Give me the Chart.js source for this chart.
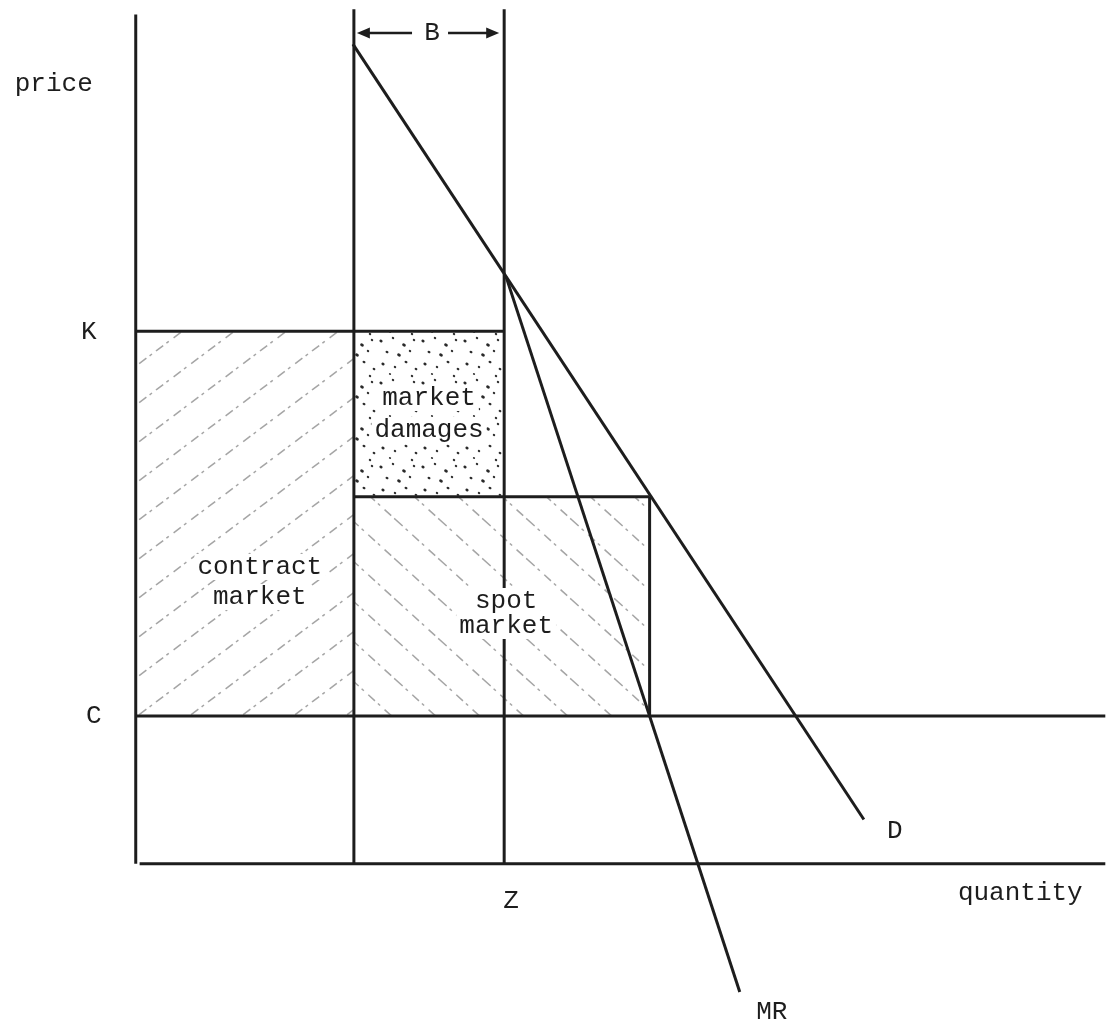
<!DOCTYPE html>
<html>
<head>
<meta charset="utf-8">
<script src="https://cdn.jsdelivr.net/npm/chart.js@4.4.1/dist/chart.umd.min.js"></script>
<style>
  html, body { margin: 0; padding: 0; background: #fff; }
  #wrap { width: 1115px; height: 1031px; position: relative; }
</style>
</head>
<body>
<div id="wrap"><canvas id="diagram"></canvas></div>
<script>
// Demand and marginal revenue curves (quantity, price)
const demandQty = [22.4, 75.1];
const demandPrice = [96.5, 5.2];
const mrQty = [38.2, 62.3];
const mrPrice = [69.1, -15.1];

// Price levels: K, step between damages and spot market, C
const levelNames = ['K', 'M', 'C'];
const levelPrices = [62.7, 43.2, 17.4];

// Quantity cuts: left edge of B, Z, right edge of spot market
const cutNames = ['B0', 'Z', 'S'];
const cutQty = [22.5, 38.0, 53.0];

const axisEnd = [100, 100];   // quantity, price
const cutTop = 100.6;

const K = levelPrices[0], M = levelPrices[1], C = levelPrices[2];
const qB = cutQty[0], qZ = cutQty[1], qS = cutQty[2];

const INK = '#1d1d1d';
const FONT = '26px "Liberation Mono", "DejaVu Sans Mono", monospace';

// --- fill patterns ---
function hatch(w, h, up) {
  const c = document.createElement('canvas');
  c.width = w; c.height = h;
  const g = c.getContext('2d');
  g.strokeStyle = 'rgba(40,40,40,0.42)';
  g.lineWidth = 1.5;
  g.setLineDash([9, 4, 3, 6]);
  for (const [dx, dy] of [[0,0],[w,0],[-w,0],[0,h],[0,-h]]) {
    g.beginPath();
    if (up) { g.moveTo(dx, h + dy); g.lineTo(w + dx, dy); }
    else { g.moveTo(dx, dy); g.lineTo(w + dx, h + dy); }
    g.stroke();
  }
  return g.createPattern(c, 'repeat');
}

function stipple() {
  const dots = [[3,5,1.3],[15,2,1.0],[26,9,1.5],[36,4,1.0],[9,16,1.2],[21,19,1.5],
                [32,15,1.0],[5,28,1.3],[17,31,1.0],[28,26,1.2],[38,33,1.1],[12,38,0.9],
                [34,40,1.0]];
  const c = document.createElement('canvas');
  c.width = 42; c.height = 42;
  const g = c.getContext('2d');
  g.fillStyle = '#2a2a2a';
  dots.forEach(([x, y, r]) => { g.beginPath(); g.ellipse(x, y, r * 1.3, r, 0.5, 0, Math.PI * 2); g.fill(); });
  return g.createPattern(c, 'repeat');
}

function seg(x1, y1, x2, y2, width) {
  return {
    data: [{x: x1, y: y1}, {x: x2, y: y2}],
    showLine: true, borderColor: INK, borderWidth: width || 3,
    pointRadius: 0, fill: false
  };
}

function area(x1, x2, top, bottom, pattern) {
  return {
    data: [{x: x1, y: top}, {x: x2, y: top}],
    showLine: true, borderWidth: 0, borderColor: 'rgba(0,0,0,0)',
    pointRadius: 0, backgroundColor: pattern, fill: {value: bottom}
  };
}

// --- labels ---
function boxed(ctx, text, x, y) {
  const w = ctx.measureText(text).width;
  ctx.fillStyle = '#fff';
  ctx.fillRect(x - w / 2 - 3, y - 13, w + 6, 26);
  ctx.fillStyle = INK;
  ctx.fillText(text, x, y);
}

function arrow(ctx, x1, x2, y) {
  const dir = Math.sign(x2 - x1);
  ctx.strokeStyle = INK; ctx.lineWidth = 2.5;
  ctx.beginPath(); ctx.moveTo(x1, y); ctx.lineTo(x2 - dir * 8, y); ctx.stroke();
  ctx.fillStyle = INK;
  ctx.beginPath();
  ctx.moveTo(x2, y); ctx.lineTo(x2 - dir * 13, y - 5.5); ctx.lineTo(x2 - dir * 13, y + 5.5);
  ctx.closePath(); ctx.fill();
}

const labelPlugin = {
  id: 'labels',
  afterDatasetsDraw(chart) {
    const {ctx, scales: {x, y}} = chart;
    const px = v => x.getPixelForValue(v), py = v => y.getPixelForValue(v);
    ctx.save();
    ctx.font = FONT;
    ctx.textAlign = 'center';
    ctx.textBaseline = 'middle';
    ctx.fillStyle = INK;

    ctx.fillText('price', px(0) - 82, py(axisEnd[1]) + 70);
    ctx.fillText('K', px(0) - 47, py(K) + 1);
    ctx.fillText('C', px(0) - 42, py(C));
    ctx.fillText('Z', px(qZ) + 7, py(0) + 37);
    ctx.fillText('quantity', px(axisEnd[0]) - 85, py(0) + 29);
    ctx.fillText('D', px(demandQty[1]) + 31, py(demandPrice[1]) + 12);
    ctx.fillText('MR', px(mrQty[1]) + 32, py(mrPrice[1]) + 20);

    // B bracket
    const yB = 33;
    const mid = (px(qB) + px(qZ)) / 2 + 3;
    ctx.fillText('B', mid, yB);
    arrow(ctx, mid - 20, px(qB) + 3, yB);
    arrow(ctx, mid + 16, px(qZ) - 5, yB);

    const cx = (px(0) + px(qB)) / 2 + 15;
    boxed(ctx, 'contract', cx, 567);
    boxed(ctx, 'market', cx, 597);
    const dx = (px(qB) + px(qZ)) / 2;
    boxed(ctx, 'market', dx, 398);
    boxed(ctx, 'damages', dx, 430);
    boxed(ctx, 'spot', px(qZ) + 2, 601);
    boxed(ctx, 'market', px(qZ) + 2, 626);
    ctx.restore();
  }
};

new Chart(document.getElementById('diagram'), {
  type: 'scatter',
  data: {
    datasets: [
      area(0, qB, K, C, hatch(52, 39, true)),
      area(qB, qZ, K, M, stipple()),
      area(qB, qS, M, C, hatch(44, 40, false)),
      seg(0, 0, 0, axisEnd[1]),
      seg(0.4, 0, axisEnd[0], 0),
      seg(qB, 0, qB, cutTop),
      seg(qZ, 0, qZ, cutTop),
      seg(0, K, qZ, K),
      seg(0, C, axisEnd[0], C),
      seg(qB, M, qS, M),
      seg(qS, C, qS, M),
      seg(demandQty[0], demandPrice[0], demandQty[1], demandPrice[1]),
      seg(mrQty[0], mrPrice[0], mrQty[1], mrPrice[1])
    ]
  },
  options: {
    responsive: true,
    maintainAspectRatio: false,
    animation: false,
    layout: { padding: 0 },
    plugins: { legend: { display: false }, tooltip: { enabled: false } },
    scales: {
      x: { type: 'linear', min: -14, max: 101, display: false },
      y: { type: 'linear', min: -19.7, max: 101.7, display: false }
    }
  },
  plugins: [labelPlugin]
});
</script>
</body>
</html>
